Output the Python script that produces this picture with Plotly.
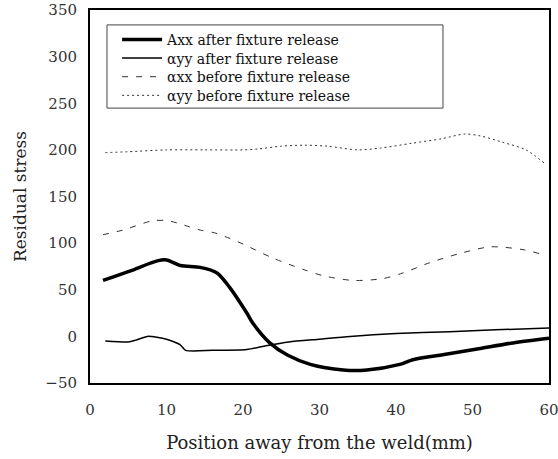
import plotly.graph_objects as go

# Data
x_axx_after = [1.7, 5.2, 8.8, 10, 11.8, 14.4, 16.6, 18.3, 20.5, 21.3, 23.5, 25.8, 28.8, 33.1, 36.2, 40.5, 42.2, 46.7, 51, 55.3, 60]
y_axx_after = [60, 70, 81, 82, 76, 74, 68, 52, 25, 14, -7, -20, -30, -36, -36, -30, -25, -19, -13, -7, -2]

x_ayy_after = [2, 5, 6, 7.5, 10, 11.8, 12.5, 16, 20.5, 23, 26, 30, 34, 40, 47, 53, 60]
y_ayy_after = [-5, -6, -4, 0, -3, -9, -15, -15, -14, -10, -6, -3, 0, 3, 5, 7, 9]

x_axx_before = [1.7, 4.3, 8.2, 10.2, 12.4, 14.4, 16.3, 18.3, 20, 23.9, 27.8, 30.5, 34.4, 38.3, 40.9, 44.4, 48.4, 52.3, 56.6, 59.5]
y_axx_before = [109, 114, 124, 124, 119, 114, 111, 105, 99, 84, 72, 65, 60, 62, 68, 79, 89, 96, 93, 87]

x_ayy_before = [2, 5, 10, 15, 20, 22, 25, 28, 31, 35, 38, 42, 46, 49, 51, 54, 57, 59.5]
y_ayy_before = [197, 198, 200, 200, 200, 201, 204, 205, 204, 200, 202, 207, 212, 217, 215, 208, 200, 185]

names = ["Axx after fixture release", "αyy after fixture release",
         "αxx before fixture release", "αyy before fixture release"]

x_ticks = [0, 10, 20, 30, 40, 50, 60]
y_ticks = [-50, 0, 50, 100, 150, 200, 250, 300, 350]

FONT = "DejaVu Serif"

series = [
    (x_axx_after, y_axx_after, dict(color="black", width=3.5, shape="spline", smoothing=0.8)),
    (x_ayy_after, y_ayy_after, dict(color="black", width=1.5, shape="spline", smoothing=0.6)),
    (x_axx_before, y_axx_before, dict(color="#333", width=1, dash="6px,8px", shape="spline", smoothing=0.8)),
    (x_ayy_before, y_ayy_before, dict(color="#333", width=1, dash="2px,3px", shape="spline", smoothing=0.8)),
]
legend_ids = ["legend", "legend2", "legend3", "legend4"]
legend_tops = [0.9625, 0.913, 0.863, 0.813]

fig = go.Figure()
for (xs, ys, ln), nm, lid in zip(series, names, legend_ids):
    fig.add_trace(go.Scatter(x=xs, y=ys, mode="lines", name=nm, line=ln, legend=lid))

# legend frame
fig.add_shape(type="rect", xref="paper", yref="paper",
              x0=0.037, x1=0.769, y0=0.737, y1=0.960,
              line=dict(color="#444", width=1), fillcolor="rgba(0,0,0,0)", layer="above")

legend_style = dict(xanchor="left", yanchor="top", borderwidth=0,
                    bgcolor="rgba(255,255,255,0)",
                    font=dict(family=FONT, size=14, color="#111"), itemwidth=40)
layout_legends = {lid: dict(x=0.059, y=top, **legend_style)
                  for lid, top in zip(legend_ids, legend_tops)}

fig.update_layout(
    width=558, height=459,
    margin=dict(l=90, r=9, t=10, b=76),
    paper_bgcolor="white", plot_bgcolor="white",
    font=dict(family=FONT, color="#222", size=15),
    showlegend=True,
    **layout_legends,
)
fig.update_xaxes(range=[0, 60], tickvals=x_ticks, showgrid=False, zeroline=False,
                 showline=True, linecolor="black", linewidth=2, mirror=True,
                 ticks="", ticklabelstandoff=12, ticklabeloverflow="allow",
                 tickfont=dict(family=FONT, size=15, color="#333"),
                 title=dict(text="Position away from the weld(mm)",
                            font=dict(family=FONT, size=18, color="#222"), standoff=18),
                 automargin=False)
fig.update_yaxes(range=[-50, 350], tickvals=y_ticks, showgrid=False, zeroline=False,
                 showline=True, linecolor="black", linewidth=2, mirror=True,
                 ticks="", ticklabelstandoff=8,
                 tickfont=dict(family=FONT, size=15, color="#333"),
                 title=dict(text="Residual stress",
                            font=dict(family=FONT, size=17, color="#222"), standoff=14),
                 automargin=False)

fig.write_html("out.html")
